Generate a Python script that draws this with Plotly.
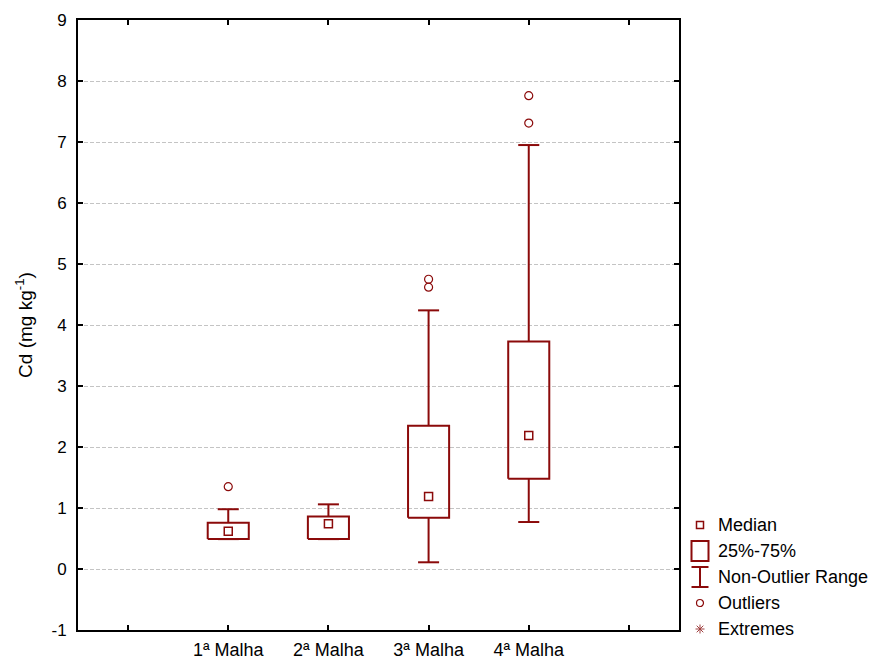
import plotly.graph_objects as go

# ---------------- data ----------------
categories = ["1ª Malha", "2ª Malha", "3ª Malha", "4ª Malha"]
positions = [1, 2, 3, 4]
q1 = [0.49, 0.49, 0.84, 1.48]
median = [0.62, 0.74, 1.19, 2.19]
q3 = [0.76, 0.86, 2.35, 3.73]
lower = [0.49, 0.49, 0.11, 0.77]
upper = [0.98, 1.06, 4.24, 6.95]
outliers = [[1.35], [], [4.62, 4.75], [7.31, 7.76]]
ytick_vals = list(range(-1, 10))
ytick_text = [str(v) for v in ytick_vals]
xminor_vals = [0, 1, 2, 3, 4, 5]
legend_labels = ["Median", "25%-75%", "Non-Outlier Range", "Outliers", "Extremes"]

# ---------------- style ----------------
RED = "#8b0a0a"
FONT = "Liberation Sans, Arial, sans-serif"
BOX_HALF = 0.205
CAP_HALF = 0.105

W, H = 890, 659
ML, MR, MT, MB = 78, 211, 20, 29
PW, PH = W - ML - MR, H - MT - MB

# box rectangles
bx, by = [], []
for p, a, b in zip(positions, q1, q3):
    bx += [p - BOX_HALF, p + BOX_HALF, p + BOX_HALF, p - BOX_HALF, p - BOX_HALF, None]
    by += [a, a, b, b, a, None]

# whiskers + caps
wx, wy = [], []
for p, a, b, lo, hi in zip(positions, q1, q3, lower, upper):
    wx += [p, p, None, p - CAP_HALF, p + CAP_HALF, None]
    wy += [b, hi, None, hi, hi, None]
    wx += [p, p, None, p - CAP_HALF, p + CAP_HALF, None]
    wy += [a, lo, None, lo, lo, None]

ox, oy = [], []
for p, vals in zip(positions, outliers):
    for v in vals:
        ox.append(p)
        oy.append(v)

fig = go.Figure()
fig.add_trace(go.Scatter(x=wx, y=wy, mode="lines", line=dict(color=RED, width=2),
                         hoverinfo="skip", showlegend=False))
fig.add_trace(go.Scatter(x=bx, y=by, mode="lines", line=dict(color=RED, width=2),
                         hoverinfo="skip", showlegend=False))
fig.add_trace(go.Scatter(x=positions, y=median, mode="markers",
                         marker=dict(symbol="square-open", size=8, color=RED,
                                     line=dict(width=1.5, color=RED)),
                         showlegend=False))
fig.add_trace(go.Scatter(x=ox, y=oy, mode="markers",
                         marker=dict(symbol="circle-open", size=8, color=RED,
                                     line=dict(width=1.2, color=RED)),
                         showlegend=False))

# ---------------- custom legend ----------------
def px(xp):
    return (xp - ML) / PW

def py(yp):
    return (H - MB - yp) / PH

rows = [525, 551, 577, 603, 629]
sx = 700
shapes = []
# Median
shapes.append(dict(type="rect", xref="paper", yref="paper",
                   x0=px(sx - 3.5), x1=px(sx + 3.5), y0=py(rows[0] + 3.5), y1=py(rows[0] - 3.5),
                   line=dict(color=RED, width=1.5)))
# 25%-75%
shapes.append(dict(type="rect", xref="paper", yref="paper",
                   x0=px(sx - 8.5), x1=px(sx + 8.5), y0=py(rows[1] + 10), y1=py(rows[1] - 10),
                   line=dict(color=RED, width=2)))
# Non-outlier range
for (x0, y0, x1, y1) in [(sx, rows[2] - 10, sx, rows[2] + 10),
                         (sx - 8.5, rows[2] - 10, sx + 8.5, rows[2] - 10),
                         (sx - 8.5, rows[2] + 10, sx + 8.5, rows[2] + 10)]:
    shapes.append(dict(type="line", xref="paper", yref="paper",
                       x0=px(x0), y0=py(y0), x1=px(x1), y1=py(y1),
                       line=dict(color=RED, width=2)))
# Outliers
shapes.append(dict(type="circle", xref="paper", yref="paper",
                   x0=px(sx - 3.5), x1=px(sx + 3.5), y0=py(rows[3] + 3.5), y1=py(rows[3] - 3.5),
                   line=dict(color=RED, width=1.2)))
# Extremes (asterisk)
cy = rows[4]
for (dx, dy) in [(0, 4.5), (4.5, 0), (3.3, 3.3), (3.3, -3.3)]:
    shapes.append(dict(type="line", xref="paper", yref="paper",
                       x0=px(sx - dx), y0=py(cy - dy), x1=px(sx + dx), y1=py(cy + dy),
                       line=dict(color="#a04040", width=1)))

annotations = []
for lbl, r in zip(legend_labels, rows):
    annotations.append(dict(text=lbl, xref="paper", yref="paper", x=px(716), y=py(r),
                            xanchor="left", yanchor="middle", showarrow=False,
                            font=dict(family=FONT, size=18, color="black")))

fig.update_layout(
    width=W, height=H,
    margin=dict(l=ML, r=MR, t=MT, b=MB, pad=0, autoexpand=False),
    paper_bgcolor="white", plot_bgcolor="white",
    font=dict(family=FONT, size=17, color="black"),
    shapes=shapes, annotations=annotations,
    showlegend=False,
)
fig.update_xaxes(
    range=[-0.5, 5.5], tickmode="array", tickvals=positions, ticktext=categories,
    ticks="inside", ticklen=5, tickwidth=2, tickcolor="black",
    minor=dict(tickmode="array", tickvals=xminor_vals, ticks="inside", ticklen=5,
               tickwidth=2, tickcolor="black", showgrid=False),
    showline=True, linewidth=2, linecolor="black", mirror="ticks",
    showgrid=False, zeroline=False, tickfont=dict(size=18), ticklabelstandoff=2,
    automargin=False,
)
fig.update_yaxes(
    range=[-1, 9], tickmode="array", tickvals=ytick_vals, ticktext=ytick_text,
    ticks="inside", ticklen=5, tickwidth=2, tickcolor="black",
    showline=True, linewidth=2, linecolor="black", mirror="ticks",
    showgrid=True, gridcolor="#c4c4c4", gridwidth=1, griddash="4px,2px",
    zeroline=False, tickfont=dict(size=17), ticklabelstandoff=6,
    title=dict(text="Cd (mg kg<sup>-1</sup>)", font=dict(size=19), standoff=14),
    automargin=False,
)

fig.write_html("out.html")
